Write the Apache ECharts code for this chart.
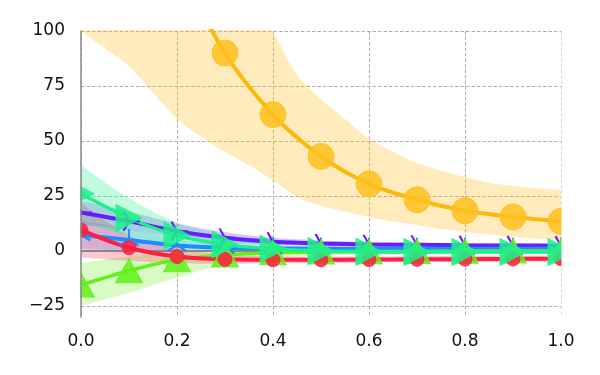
<!DOCTYPE html>
<html><head><meta charset="utf-8">
<script src="https://cdn.jsdelivr.net/npm/echarts@6/dist/echarts.min.js"></script>
<style>html,body{margin:0;padding:0;background:#fff}#c{width:600px;height:375px}</style>
</head><body><div id="c"></div>
<script>
const xs = [0, 0.1, 0.2, 0.3, 0.4, 0.5, 0.6, 0.7, 0.8, 0.9, 1.0];
const xsFine = [0, 0.05, 0.1, 0.15, 0.2, 0.25, 0.3, 0.35, 0.4, 0.45, 0.5, 0.55, 0.6, 0.65, 0.7, 0.75, 0.8, 0.85, 0.9, 0.95, 1.0];
const yTicks = [-25, 0, 25, 50, 75, 100];
const xTicks = [0, 0.2, 0.4, 0.6, 0.8, 1.0];

const orange = [300, 200, 133, 90, 62, 43, 30.5, 23.3, 18.3, 15.5, 13.5];
const orangeLow = [100, 92, 84, 72, 60, 52, 45, 39, 32, 24.5, 20.5, 18, 15.5, 13.5, 11.8, 10, 8.6, 7.5, 6.4, 5.6, 5];
const orangeHigh = [300, 270, 240, 210, 185, 160, 140, 120, 100, 80, 69, 60, 51, 45, 40, 36.5, 33.6, 31, 29.5, 28.5, 27.7];

const purple = [17.5, 13.5, 9, 6, 4.2, 3.4, 3, 2.8, 2.6, 2.5, 2.4];
const purpleLow = [12, 9.5, 6, 3.8, 2.6, 2.2, 2, 1.9, 1.8, 1.7, 1.6];
const purpleHigh = [23, 18, 12.5, 8.5, 6, 4.8, 4.2, 3.8, 3.5, 3.4, 3.3];

const blue = [7.3, 5, 2.5, 1.5, 1.2, 1.1, 1, 1, 1, 1, 1];
const blueLow = [1, 0, -0.5, 0, 0.3, 0.4, 0.4, 0.4, 0.4, 0.4, 0.4];
const blueHigh = [14, 10, 5.5, 3, 2.2, 1.8, 1.6, 1.6, 1.6, 1.6, 1.6];

const red = [9.5, 1.5, -2.5, -3.8, -4, -4, -3.9, -3.8, -3.7, -3.6, -3.5];
const redLow = [-3, -4.5, -5.5, -6, -5.5, -5.5, -5.2, -5, -5, -4.8, -4.8];
const redHigh = [22, 7, 1, -1.5, -2.5, -2.5, -2.5, -2.4, -2.3, -2.2, -2.2];

const green = [-15.5, -9, -4, -1.8, -0.8, -0.5, -0.3, -0.2, -0.1, 0, 0];
const greenLow = [-25, -19, -12, -6, -3, -2, -1.5, -1.2, -1, -1, -1];
const greenHigh = [-5.5, -2.5, -0.5, 0, 0.3, 0.4, 0.5, 0.5, 0.5, 0.5, 0.5];

const teal = [26, 15, 7, 3, 1, 0, -0.3, -0.5, -0.5, -0.5, -0.5];
const tealLow = [13, 7, 2, 0, -0.5, -1, -1.2, -1.3, -1.3, -1.3, -1.3];
const tealHigh = [39, 24, 13, 7, 3, 1.5, 0.7, 0.3, 0.3, 0.3, 0.3];

const C = {
  orange: '#ffb70a', orangeM: '#ffbf1f',
  purple: '#651eff', blue: '#1e8cff', red: '#ff1f40', green: '#62f01a', teal: '#1ef08c'
};

const zip = (x, y) => x.map((v, i) => [v, y[i]]);
// [y, x] order so that the stacked (first) dimension is y
const zipYX = (x, y) => x.map((v, i) => [y[i], v]);

function band(name, x, lo, hi, color, alpha) {
  return [
    {type: 'line', name: name + '_lo', data: zipYX(x, lo), encode: {x: 1, y: 0}, stack: name, stackStrategy: 'all',
     symbol: 'none', smooth: 0.3, lineStyle: {opacity: 0}, silent: true, z: 1},
    {type: 'line', name: name + '_hi', data: zipYX(x, hi.map((v, i) => v - lo[i])), encode: {x: 1, y: 0}, stack: name, stackStrategy: 'all',
     symbol: 'none', smooth: 0.3, lineStyle: {opacity: 0}, areaStyle: {color: color, opacity: alpha}, silent: true, z: 1}
  ];
}

const TRI_RIGHT = 'path://M0 0L10 0M0 0L-5 -8.66M0 0L-5 8.66M-10 0L-10 0';
const TRI_UP = 'path://M0 0L0 -10M0 0L-8.66 5M0 0L8.66 5M0 10L0 10';

function line(name, vals, color, mcolor, symbol, size, width, extra) {
  return Object.assign({
    type: 'line', name: name, data: zip(xs, vals), smooth: 0.3,
    symbol: symbol, symbolSize: size,
    lineStyle: {color: color, width: width},
    itemStyle: {color: mcolor, opacity: 0.85, borderColor: mcolor, borderWidth: 1},
    z: 3, silent: true
  }, extra || {});
}

const series = [].concat(
  band('bo', xsFine, orangeLow, orangeHigh, C.orange, 0.28),
  band('bp', xs, purpleLow, purpleHigh, C.purple, 0.25),
  band('bb', xs, blueLow, blueHigh, C.blue, 0.25),
  band('bg', xs, greenLow, greenHigh, C.green, 0.25),
  band('br', xs, redLow, redHigh, C.red, 0.25),
  band('bt', xs, tealLow, tealHigh, C.teal, 0.28),
  [
    line('orange', orange, C.orange, C.orangeM, 'circle', 26, 4),
    line('purple', purple, C.purple, C.purple, TRI_RIGHT, [22, 19], 4,
      {itemStyle: {color: 'rgba(0,0,0,0)', borderColor: C.purple, borderWidth: 2}}),
    line('blue', blue, C.blue, C.blue, TRI_UP, [19, 22], 4,
      {itemStyle: {color: 'rgba(0,0,0,0)', borderColor: C.blue, borderWidth: 2}}),
    line('green', green, C.green, C.green, 'triangle', [27, 24], 3.5),
    line('red', red, C.red, C.red, 'circle', 14, 4),
    line('teal', teal, C.teal, C.teal, 'triangle', [27, 26], 3.5, {symbolRotate: -90})
  ]
);

series[11].markLine = {
  silent: true, symbol: 'none', z: 2, animation: false,
  label: {show: false},
  lineStyle: {color: '#888888', width: 2, type: 'solid'},
  data: [{yAxis: 0}]
};

const font = {fontFamily: 'DejaVu Sans', fontSize: 17, color: '#111'};

const chart = echarts.init(document.getElementById('c'), null, {renderer: 'canvas'});
chart.setOption({
  animation: false,
  backgroundColor: '#fff',
  grid: {left: 81, right: 39, top: 31, bottom: 58},
  xAxis: {
    type: 'value', min: 0, max: 1, interval: 0.2,
    axisLine: {show: false}, axisTick: {show: false},
    axisLabel: Object.assign({margin: 16, formatter: v => xTicks.some(t => Math.abs(t - v) < 1e-9) ? v.toFixed(1) : ''}, font),
    splitLine: {show: true, lineStyle: {color: '#b0b0b0', width: 1, type: [3.5, 2]}}
  },
  yAxis: [
    {
      type: 'value', min: -30, max: 100, interval: 5, z: 100,
      axisLine: {show: true, lineStyle: {color: '#8a8a8a', width: 1.5}},
      axisTick: {show: false},
      axisLabel: Object.assign({margin: 16, formatter: v => yTicks.includes(v) ? String(v).replace('-', '\u2212') : ''}, font),
      splitLine: {show: false}
    },
    {
      type: 'value', min: -30, max: 100, interval: 5, z: 0,
      axisLine: {show: false}, axisTick: {show: false}, axisLabel: {show: false},
      splitLine: {show: true, lineStyle: {color: ['rgba(0,0,0,0)', '#b0b0b0', 'rgba(0,0,0,0)', 'rgba(0,0,0,0)', 'rgba(0,0,0,0)'], width: 1, type: [3.5, 2]}}
    }
  ],
  graphic: [
    {type: 'rect', z: 50, silent: true, shape: {x: 0, y: 0, width: 80.5, height: 324}, style: {fill: '#fff'}},
    {type: 'rect', z: 50, silent: true, shape: {x: 561.5, y: 0, width: 40, height: 324}, style: {fill: '#fff'}}
  ],
  series: series
});
</script>
</body></html>
